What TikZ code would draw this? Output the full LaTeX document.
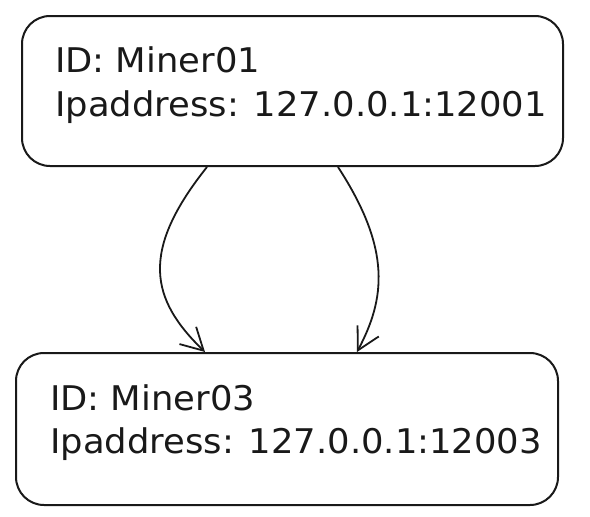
\documentclass[tikz,border=0pt]{standalone}
\usepackage{fontspec}
\setmainfont{DejaVu Sans}
\usetikzlibrary{arrows.meta}
\newcommand{\wid}[1]{\scalebox{1.04}[1]{#1}}
\begin{document}
\begin{tikzpicture}[x=1pt,y=-1pt,
  box/.style={draw=black!90,line width=2pt,rounded corners=28pt,minimum width=541pt,minimum height=150pt,inner sep=0pt},
  lbl/.style={anchor=base west,inner sep=0pt,font=\fontsize{34}{40}\selectfont,text=black!90},
  conn/.style={draw=black!90,line width=1.8pt,-{Straight Barb[length=22pt,width=24pt,line width=1.8pt]}}]
\useasboundingbox (0,0) rectangle (590,517);
\node[box] (top) at (292.5,91) {};
\node[box,minimum width=542pt,minimum height=152pt] (bot) at (287,429) {};
\node[lbl] (t1) at (55,72) {\wid{ID: Miner01}};
\node[lbl] (t2) at (55,116) {\wid{Ipaddress: 127.0.0.1:12001}};
\node[lbl] (b1) at (50,410) {\wid{ID: Miner03}};
\node[lbl] (b2) at (50,453) {\wid{Ipaddress: 127.0.0.1:12003}};
\draw[conn] ([xshift=-85.5pt]top.south) .. controls +(-67,84) and +(-55,-53) .. ([xshift=-82pt]bot.north);
\draw[conn] ([xshift=45.5pt]top.south) .. controls +(54,83) and +(28,-53) .. ([xshift=70pt]bot.north);
\end{tikzpicture}
\end{document}
